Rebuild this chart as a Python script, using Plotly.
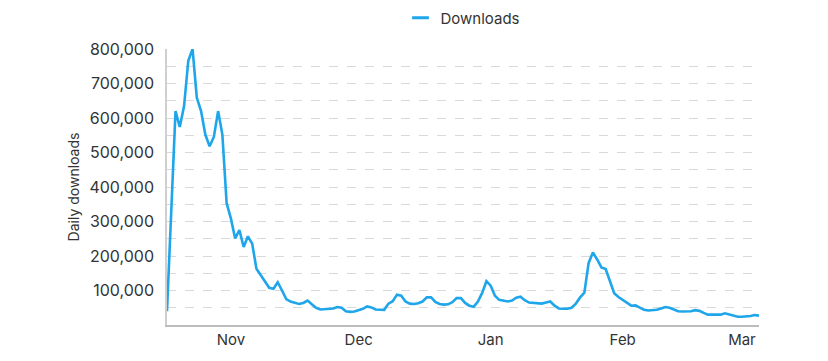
import pandas as pd
import plotly.graph_objects as go

start_date = "2020-10-17"
downloads = [
    40000, 350000, 620000, 574000, 634000, 766000, 800000, 659000, 620000, 552000,
    518000, 545000, 620000, 552000, 353000, 309000, 251000, 275000, 226000, 257000,
    236000, 163000, 144000, 124000, 108000, 105000, 124000, 100000, 75000, 68000,
    64000, 61000, 64000, 71000, 60000, 50000, 45000, 46000, 47000, 48000,
    52000, 50000, 40000, 38000, 39000, 42000, 47000, 54000, 51000, 45000,
    44000, 44000, 62000, 69000, 88000, 85000, 68000, 62000, 61000, 63000,
    68000, 80000, 80000, 67000, 61000, 59000, 60000, 66000, 78000, 78000,
    64000, 56000, 53000, 68000, 93000, 127000, 114000, 85000, 73000, 70000,
    68000, 71000, 79000, 82000, 72000, 65000, 64000, 63000, 62000, 65000,
    68000, 56000, 48000, 47000, 47000, 50000, 62000, 80000, 94000, 180000,
    210000, 190000, 167000, 162000, 125000, 92000, 81000, 73000, 63000, 56000,
    57000, 51000, 44000, 42000, 42000, 44000, 48000, 52000, 50000, 44000,
    40000, 39000, 39000, 40000, 43000, 41000, 35000, 30000, 30000, 29000,
    30000, 34000, 31000, 27000, 24000, 24000, 24000, 26000, 29000, 27000,
]
dates = pd.date_range(start_date, periods=len(downloads), freq="D")

month_ticks = ["2020-11-01", "2020-12-01", "2021-01-01", "2021-02-01", "2021-03-01"]
month_labels = ["Nov", "Dec", "Jan", "Feb", "Mar"]
y_ticks = [100000, 200000, 300000, 400000, 500000, 600000, 700000, 800000]

font_family = "Inter, Lato, sans-serif"
text_color = "#333333"
line_color = "#1fa6ea"

fig = go.Figure()
fig.add_trace(go.Scatter(
    x=dates, y=downloads, mode="lines", name="Downloads",
    line=dict(color=line_color, width=2.6), showlegend=False,
))
# legend entry with a short line key
fig.add_trace(go.Scatter(
    x=[None], y=[None], mode="markers", name="Downloads",
    marker=dict(symbol="line-ew-open", size=12, color=line_color,
                line=dict(color=line_color, width=3)),
    showlegend=True,
))

fig.update_layout(
    width=828, height=361,
    margin=dict(l=167, r=69, t=49, b=36, autoexpand=False),
    paper_bgcolor="white", plot_bgcolor="white",
    font=dict(family=font_family, color=text_color, size=14),
    showlegend=True,
    legend=dict(orientation="h", x=0.5, xanchor="center", y=0.95, yanchor="middle",
                yref="container", xref="paper",
                font=dict(size=15, color=text_color)),
)

fig.update_xaxes(
    range=[dates[0], dates[-1]],
    tickvals=month_ticks, ticktext=month_labels,
    showgrid=False, showline=True, linecolor="#bdbdbd", linewidth=2,
    ticks="", tickfont=dict(size=15, color=text_color),
    zeroline=False,
)
fig.update_yaxes(
    range=[0, 800000],
    tickvals=y_ticks, tickformat=",",
    showgrid=True, gridcolor="#d9d9d9", griddash="dash", gridwidth=1,
    minor=dict(dtick=50000, tick0=0, showgrid=True, gridcolor="#d9d9d9", griddash="dash", gridwidth=1),
    showline=True, linecolor="#cfcfcf", linewidth=1.5,
    ticks="", ticklabelstandoff=8,
    tickfont=dict(size=16, color=text_color),
    title=dict(text="Daily downloads", font=dict(size=14, color=text_color), standoff=7),
    zeroline=False,
)

fig.write_html("out.html", config={"displayModeBar": False},
               post_script="document.body.style.margin='0';")
